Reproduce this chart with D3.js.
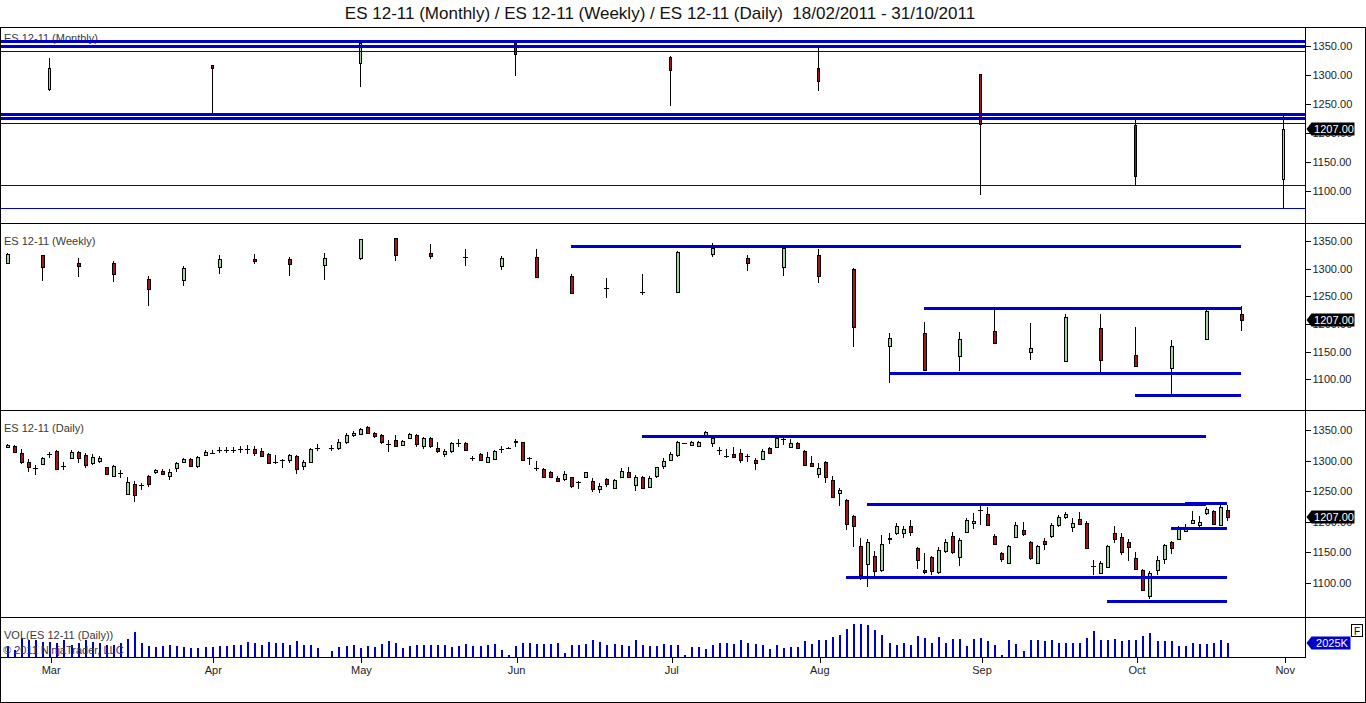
<!DOCTYPE html>
<html lang="en">
<head>
<meta charset="UTF-8">
<title>ES 12-11 Monthly / Weekly / Daily</title>
<script src="https://d3js.org/d3.v7.min.js"></script>
<style>
  body { margin: 0; background: #fff; }
  svg { display: block; font-family: "Liberation Sans", Arial, sans-serif; }
  .frame { stroke: #000; stroke-width: 1; fill: none; shape-rendering: crispEdges; }
  .wick { stroke: #000; stroke-width: 1; shape-rendering: crispEdges; }
  .body { stroke: #000; stroke-width: 1; shape-rendering: crispEdges; }
  .up { fill: #a3d3a3; }
  .down { fill: #a11616; }
  .level { stroke: #0000cd; fill: none; shape-rendering: crispEdges; }
  .vol { stroke: #0000cd; stroke-width: 2; shape-rendering: crispEdges; }
  .panel-label { font-size: 11px; fill: #3a3a3a; }
  .tick-label { font-size: 11px; fill: #222; }
  .tag-text { font-size: 11px; fill: #fff; }
  .title { font-size: 17px; fill: #111; white-space: pre; }
</style>
</head>
<body>
<svg width="1366" height="703"></svg>
<script>
// ---- data (ES 12-11, 18/02/2011 - 31/10/2011) ----
const titleText = "ES 12-11 (Monthly) / ES 12-11 (Weekly) / ES 12-11 (Daily)  18/02/2011 - 31/10/2011";
const lastPrice = 1207;
const lastVolume = 2025; // thousands

// monthly bars, [open, high, low, close]
const monthlyDates = ["2011-02-28", "2011-03-31", "2011-04-29", "2011-05-31", "2011-06-30",
  "2011-07-29", "2011-08-31", "2011-09-30", "2011-10-31"];
const monthlyOHLC = [
  [1275, 1329, 1273, 1312], [1317, 1318, 1233, 1311], [1320.5, 1356, 1279, 1355],
  [1355, 1357, 1298, 1336], [1331, 1332, 1246, 1308], [1312, 1348, 1273, 1289],
  [1301, 1302, 1092, 1215], [1213, 1222, 1110, 1125], [1120, 1232, 1070, 1207]
];

// weekly bars (week ending Friday 18/02 .. 21/10)
const weeklyOHLC = [
  [1311.4, 1328.9, 1308.3, 1327.7], [1324.6, 1324.6, 1278, 1303.5], [1310, 1319.2, 1285.4, 1305.4],
  [1310, 1314.4, 1276.3, 1290.2], [1281.2, 1287.2, 1232.8, 1263], [1280, 1305.3, 1269.1, 1302.3],
  [1302.3, 1324.6, 1290.2, 1317.4], [1318.6, 1326.4, 1308.3, 1315], [1317.4, 1321.6, 1287.2, 1308.3],
  [1307.1, 1328.3, 1280, 1320.4], [1319.2, 1354, 1316.2, 1353.6], [1355.4, 1355.8, 1314.4, 1325.2],
  [1328.3, 1345.8, 1318, 1323.4], [1320.8, 1335.5, 1305.3, 1320.2], [1305.3, 1323.4, 1298, 1320.4],
  [1322.2, 1335.5, 1285.4, 1285.6], [1287.2, 1290.2, 1255.8, 1257], [1264.8, 1283, 1246.7, 1264],
  [1258.8, 1290.2, 1252.8, 1258], [1258.8, 1331.5, 1257, 1331.3], [1327.7, 1347.6, 1321.6, 1338.5],
  [1319.2, 1324.6, 1296.3, 1309.5], [1302.3, 1339.7, 1287.2, 1337.3], [1324.6, 1335.5, 1274, 1287.2],
  [1299.3, 1301, 1158.6, 1193.6], [1160.4, 1183.3, 1092.7, 1174.3], [1183.3, 1203.9, 1115, 1116.9],
  [1142.3, 1185.7, 1115, 1172.5], [1186.4, 1226.8, 1165, 1165.2], [1149.5, 1201.5, 1135, 1156.2],
  [1133.2, 1217.8, 1131.4, 1213.5], [1191.8, 1217.8, 1112, 1133.2], [1143.5, 1193.6, 1124, 1124.2],
  [1119.9, 1170.7, 1071.6, 1159.2], [1172.5, 1225, 1172.3, 1222.6], [1217.8, 1232.9, 1186.4, 1207]
];

// daily bars, every weekday 18/02 .. 19/10 except Good Friday 22/04
const dailyOHLC = [
  [1323, 1327, 1320, 1326], [1324, 1325, 1313, 1314.5], [1312, 1318.5, 1294.6, 1297], [1298, 1302, 1282, 1289],
  [1288.5, 1293, 1276.6, 1288.8], [1294.5, 1306.5, 1293, 1303.8], [1309.7, 1314.7, 1303.8, 1311], [1316, 1317, 1285, 1286],
  [1290, 1298, 1285, 1291.5], [1304, 1317, 1302.7, 1313.6], [1313.6, 1316, 1295.6, 1304], [1309, 1312, 1287.5, 1293],
  [1295.6, 1311, 1293, 1305.4], [1299.5, 1307.6, 1295.6, 1303.8], [1289, 1290, 1276.6, 1278], [1275, 1293, 1274, 1292],
  [1280.4, 1284.8, 1271, 1280], [1246.7, 1274, 1244, 1265.8], [1262, 1267.4, 1233, 1244], [1258.7, 1264, 1252, 1260],
  [1275, 1276.6, 1257.6, 1262], [1280, 1286, 1277.7, 1284], [1283.7, 1286, 1276.6, 1278], [1275, 1286, 1268.5, 1281],
  [1287.5, 1298.4, 1282, 1295.6], [1297.3, 1305, 1295.6, 1302.7], [1302, 1303.8, 1290, 1291], [1291, 1307.6, 1288.6, 1306.5],
  [1310.3, 1317.4, 1307.6, 1314.7], [1312, 1317.4, 1311, 1312.4], [1317.4, 1322.8, 1313, 1317.8], [1317.4, 1321.7, 1313, 1317.8],
  [1317.6, 1322.8, 1312, 1317.2], [1318.5, 1324, 1313, 1318.9], [1318.5, 1325.5, 1311, 1318.2], [1318.5, 1324, 1308, 1312],
  [1316, 1320, 1306.5, 1308], [1311, 1312, 1294, 1296.7], [1298.5, 1309, 1294, 1298], [1300, 1302, 1287.5, 1300.4],
  [1300, 1311, 1295.6, 1309], [1308, 1309, 1279, 1287.5], [1290, 1301, 1285, 1297.3], [1298.4, 1320, 1296.7, 1319],
  [1319, 1327, 1316, 1320],
  [1320, 1325.5, 1316, 1320.4], [1320, 1336, 1317.4, 1330], [1330, 1344.6, 1328, 1342], [1342, 1349, 1338, 1345.6],
  [1344.6, 1354.3, 1342, 1352.7], [1355.4, 1357, 1344.6, 1345.6], [1345.6, 1347.3, 1336.4, 1340], [1342, 1343.5, 1328, 1331],
  [1327, 1333.7, 1314.7, 1327.4], [1333.7, 1342, 1321.7, 1324.5], [1325.5, 1333.7, 1324, 1332.6], [1336.4, 1346, 1334.8, 1343.5],
  [1342, 1343, 1321.7, 1328], [1324.5, 1339, 1318.5, 1337.5], [1336.4, 1338, 1320, 1322.8], [1320, 1330, 1312, 1314.7],
  [1312, 1319, 1305.4, 1316.3], [1316.3, 1331, 1313, 1329.3], [1329.3, 1334.8, 1322.8, 1329.7], [1329.3, 1331, 1316.3, 1317.4],
  [1303.8, 1308, 1300, 1304.2], [1310.3, 1313, 1299.5, 1301], [1298.4, 1313.6, 1297.3, 1306.5], [1302.7, 1317.4, 1301, 1316.3],
  [1318.5, 1324, 1313, 1318.9], [1320.6, 1321.7, 1318.5, 1319.5], [1331, 1334.8, 1321.7, 1333], [1330, 1331, 1300, 1301],
  [1303.8, 1306.5, 1293, 1304.2], [1287.8, 1299.5, 1283.7, 1287.2], [1286.4, 1287.5, 1272.3, 1274], [1282, 1283.7, 1272.8, 1274],
  [1271, 1275.6, 1264.7, 1265.8], [1270, 1283, 1267.4, 1279], [1272.8, 1274, 1256, 1257.6], [1264, 1267.4, 1253, 1264.4],
  [1272.3, 1282, 1271.2, 1281], [1267.4, 1271.2, 1249.5, 1253.8], [1253.8, 1263, 1246.7, 1258.7], [1269.6, 1271.2, 1256.5, 1261.4],
  [1256, 1270, 1255, 1268.5], [1274, 1287.5, 1271.2, 1283.7], [1281.5, 1289, 1271.2, 1274], [1260.3, 1276.6, 1251, 1274],
  [1274, 1275, 1255, 1256.5], [1257.6, 1275, 1256, 1272.3], [1274, 1290, 1271.2, 1289], [1291.3, 1303.8, 1286.4, 1300],
  [1301, 1313.6, 1299.5, 1311], [1309.2, 1332.6, 1306.5, 1331], [1328.5, 1329, 1327.5, 1328], [1325.5, 1332.6, 1324, 1331],
  [1324.5, 1332, 1322.8, 1331], [1341.8, 1349, 1340, 1346.7], [1328.3, 1339, 1322.8, 1336.4], [1316.3, 1321.7, 1309, 1317],
  [1307, 1318.5, 1303.8, 1306.5], [1310.9, 1321.7, 1305.4, 1306.5], [1313, 1318.5, 1296.7, 1301], [1308, 1310.3, 1298.4, 1308.4],
  [1301, 1303.8, 1284.8, 1295.6], [1302.7, 1318.5, 1301, 1316.3], [1321.2, 1322.8, 1312, 1313.6], [1322.8, 1339, 1321.7, 1337.5],
  [1335.9, 1338, 1325.5, 1335.3], [1322.8, 1334.8, 1321.2, 1329.3], [1328.3, 1331, 1318.5, 1320], [1315.8, 1317.4, 1291.3, 1293],
  [1296.7, 1307.6, 1290, 1291.8], [1278.3, 1295.6, 1271.2, 1287.5], [1298.4, 1300, 1264, 1274], [1268.5, 1275, 1240.2, 1241.3],
  [1246.7, 1256, 1225, 1252], [1234.8, 1237, 1187, 1195], [1208.7, 1211.4, 1158.7, 1192.4], [1160.9, 1173.4, 1104.3, 1113.6],
  [1131, 1171.7, 1093.5, 1166.8], [1143.5, 1152, 1110, 1119], [1121.7, 1178, 1118, 1164], [1172, 1181.5, 1163.6, 1174],
  [1181.5, 1197.8, 1178.8, 1192.4], [1182.6, 1192.4, 1173.4, 1188.6], [1192.4, 1203.3, 1176, 1182.6], [1157, 1158.7, 1122.8, 1138],
  [1121, 1148.9, 1115.2, 1118], [1142.4, 1143.5, 1113.6, 1119], [1119, 1158, 1115.2, 1154.3], [1151.6, 1171.7, 1149, 1166.8],
  [1176, 1183, 1147.8, 1150], [1143.5, 1173.4, 1127, 1170.7], [1184.2, 1206, 1182.6, 1203.3], [1196.7, 1214, 1188, 1200.5],
  [1219.4, 1226.6, 1195, 1219.8], [1212.5, 1223.9, 1194, 1195], [1176, 1180, 1162.5, 1163.6], [1148.9, 1150, 1133.7, 1139.7],
  [1133.7, 1162.5, 1132.6, 1160.9], [1176, 1199.5, 1175, 1195], [1187, 1199, 1177, 1180], [1166.8, 1169, 1137, 1140.8],
  [1132.6, 1161.4, 1130, 1159.8], [1168, 1173.4, 1154.3, 1162.5], [1176, 1197.8, 1173.4, 1194], [1195, 1211.4, 1191.3, 1207.6],
  [1208.7, 1215.8, 1204.9, 1213], [1191.3, 1206, 1182.6, 1197.8], [1204.9, 1215.8, 1195, 1196.7], [1197.8, 1201.6, 1156, 1157],
  [1127.7, 1137, 1112, 1127.2], [1116.3, 1136.4, 1114.7, 1132.6], [1127.2, 1162.5, 1124.5, 1160.9], [1181.5, 1192.4, 1165.2, 1171.7],
  [1174.5, 1181.5, 1145.1, 1150], [1166.8, 1171.7, 1135.3, 1158.7], [1140.8, 1150.5, 1121.7, 1123.4], [1121.7, 1122.8, 1086.4, 1089],
  [1079.4, 1120, 1072.8, 1116.3], [1121.7, 1143.5, 1112.5, 1138], [1138, 1163.6, 1131.5, 1161.4], [1166.8, 1169, 1147.8, 1157],
  [1172.3, 1192.4, 1170.7, 1188.6], [1184.2, 1196.7, 1182.6, 1189.7], [1199, 1217.9, 1197.8, 1203.3], [1195, 1208.7, 1187, 1199.5],
  [1214, 1223.4, 1211.4, 1221], [1216.8, 1218.5, 1194, 1195], [1195, 1227.7, 1193.5, 1223.9], [1218.5, 1227.7, 1201.6, 1207]
];

// daily volume, thousands of contracts (same days as dailyOHLC)
const dailyVolume = [
  1570, 1010, 2720, 2470, 2470, 2120, 2120, 1970, 2470, 1810, 1970, 2470, 2120, 1970, 1810, 1710, 1970, 2620, 3700, 1970,
  1610, 1460, 1610, 1710, 1610, 1460, 1360, 1360, 1460, 1460, 1610, 1610, 1710, 1810, 2220, 1970, 1810, 2120, 1970, 1970,
  1710, 2320, 1710, 1810, 1310,
  810, 1460, 1610, 1710, 1256, 1569, 1480, 1928, 2331, 2017, 1345, 1569, 1793, 1793, 1793, 1704, 1704, 1434, 1569, 1882,
  1569, 1569, 1704, 1882, 986, 224, 1569, 2106, 2017, 1928, 1928, 1928, 2017, 538, 1704, 1704, 1928, 2510, 2241, 1793,
  1928, 1793, 1569, 2465, 1704, 1569, 1569, 1882, 1793, 1793, 250, 1446, 1446, 1205, 1783, 2024, 2024, 1928, 2410, 2024,
  1832, 1687, 1205, 1783, 1253, 1446, 1446, 2265, 1928, 2410, 2506, 2892, 3278, 4097, 4820, 4820, 4724, 3952, 3278, 2073,
  1687, 2073, 1687, 3133, 2699, 2073, 2892, 2073, 2651, 2651, 1542, 2651, 2699, 2314, 1783, 241, 2506, 1928, 868, 2410,
  2506, 2314, 2410, 2073, 2073, 2073, 2073, 2796, 3856, 2506, 2410, 2651, 2314, 2410, 2506, 2988, 3519, 2314, 2314, 2314,
  1542, 1542, 2073, 1928, 1928, 2024, 2506, 2025
];

// horizontal levels drawn on the chart
const monthlyThickLevels = [1358.8, 1349.6, 1232.5, 1225.6];
const monthlyThinLevels = [1341.5, 1216.4, 1109, 1069.4];
const weeklyLevels = [
  { price: 1342, from: "2011-06-10", to: "2011-10-21" },
  { price: 1228.6, from: "2011-08-19", to: "2011-10-21" },
  { price: 1110.9, from: "2011-08-12", to: "2011-10-21" },
  { price: 1070.5, from: "2011-09-30", to: "2011-10-21" }
];
const dailyLevels = [
  { price: 1340.2, from: "2011-06-24", to: "2011-10-14" },
  { price: 1228.8, from: "2011-08-09", to: "2011-10-14" },
  { price: 1231, from: "2011-10-11", to: "2011-10-19" },
  { price: 1190.2, from: "2011-10-07", to: "2011-10-19" },
  { price: 1109.8, from: "2011-08-04", to: "2011-10-19" },
  { price: 1070.7, from: "2011-09-26", to: "2011-10-19" }
];
const priceTicks = [1100, 1150, 1200, 1250, 1300, 1350];

// ---- helpers ----
const parse = d3.timeParse("%Y-%m-%d");
const firstDay = new Date(2011, 1, 18);
const isWeekday = d => d.getDay() % 6 !== 0;
// bars sit on an even weekday grid (holiday sessions keep their slot)
function slot(date) {
  return d3.timeDay.range(firstDay, date).filter(isWeekday).length;
}

const dailyDates = d3.timeDay.range(firstDay, new Date(2011, 9, 20))
  .filter(d => isWeekday(d) && d3.timeFormat("%Y-%m-%d")(d) !== "2011-04-22");
const weeklyDates = d3.timeFriday.range(firstDay, new Date(2011, 9, 22));

const toBars = (dates, ohlc) => ohlc.map((v, i) => ({
  slot: slot(dates[i]), o: v[0], h: v[1], l: v[2], c: v[3]
}));
const monthlyBars = toBars(monthlyDates.map(parse), monthlyOHLC);
const weeklyBars = toBars(weeklyDates, weeklyOHLC);
const dailyBars = toBars(dailyDates, dailyOHLC);
const volBars = dailyVolume.map((v, i) => ({ slot: slot(dailyDates[i]), v }));

// ---- layout ----
const W = 1366, H = 703;
const plotRight = 1305.5;
const panels = {
  monthly: { top: 27, bottom: 223 },
  weekly: { top: 223, bottom: 410 },
  daily: { top: 410, bottom: 617 },
  volume: { top: 617, bottom: 657 }
};

const svg = d3.select("svg");
const x = d3.scaleLinear().domain([-1, 184.2]).range([0, 1306]);
const priceDomain = [1044, 1383];
const yScale = p => d3.scaleLinear().domain(priceDomain).range([p.bottom, p.top]);
const yM = yScale(panels.monthly), yW = yScale(panels.weekly), yD = yScale(panels.daily);
const yV = d3.scaleLinear().domain([0, 5830]).range([panels.volume.bottom, panels.volume.top]);

const px = v => Math.round(v) + 0.5;

// title
svg.append("text").attr("class", "title")
  .attr("x", 660).attr("y", 19)
  .attr("text-anchor", "middle")
  .text(titleText);

// clip paths per panel
Object.entries(panels).forEach(([k, p]) => {
  svg.append("clipPath").attr("id", "clip-" + k)
    .append("rect").attr("x", 1).attr("y", p.top + 1)
    .attr("width", plotRight - 1).attr("height", p.bottom - p.top - 1);
});

function panelGroup(key) {
  return svg.append("g").attr("clip-path", `url(#clip-${key})`);
}

function drawCandles(g, bars, y, bodyW) {
  const sel = g.append("g").selectAll("g").data(bars).join("g");
  sel.append("line").attr("class", "wick")
    .attr("x1", d => px(x(d.slot))).attr("x2", d => px(x(d.slot)))
    .attr("y1", d => y(d.h)).attr("y2", d => y(d.l));
  sel.each(function (d) {
    const cx = Math.round(x(d.slot));
    const y0 = y(Math.max(d.o, d.c)), y1 = y(Math.min(d.o, d.c));
    const node = d3.select(this);
    if (y1 - y0 < 1.2) {
      node.append("line").attr("class", "wick")
        .attr("x1", cx - bodyW / 2 - 0.5).attr("x2", cx + bodyW / 2 + 1.5)
        .attr("y1", px(y0)).attr("y2", px(y0));
    } else {
      node.append("rect")
        .attr("class", "body " + (d.c >= d.o ? "up" : "down"))
        .attr("x", cx - bodyW / 2 + 0.5).attr("width", bodyW)
        .attr("y", px(y0)).attr("height", Math.max(1, Math.round(y1 - y0)));
    }
  });
}

function drawLevels(g, levels, y, width) {
  g.append("g").selectAll("line").data(levels).join("line")
    .attr("class", "level")
    .attr("stroke-width", width)
    .attr("x1", d => d.from ? x(slot(parse(d.from))) : 0)
    .attr("x2", d => d.to ? x(slot(parse(d.to))) : plotRight)
    .attr("y1", d => Math.round(y(d.price)) + (width % 2 ? 0.5 : 0))
    .attr("y2", d => Math.round(y(d.price)) + (width % 2 ? 0.5 : 0));
}

function panelLabel(text, yPos) {
  svg.append("text").attr("class", "panel-label")
    .attr("x", 4).attr("y", yPos).text(text);
}

function priceAxis(y) {
  const g = svg.append("g").attr("transform", `translate(${plotRight},0)`);
  const ax = d3.axisRight(y).tickValues(priceTicks).tickSize(5).tickPadding(2)
    .tickFormat(d3.format(".2f"));
  g.call(ax);
  g.select(".domain").remove();
  g.selectAll(".tick line").attr("stroke", "#000").style("shape-rendering", "crispEdges");
  g.selectAll(".tick text").attr("class", "tick-label")
    .style("font-family", "inherit").style("font-size", "11px").attr("fill", "#222");
}

function valueTag(yc, label, fill, w) {
  const c = Math.round(yc);
  svg.append("path")
    .attr("d", `M${plotRight + 1},${c} L${plotRight + 6},${c - 6.5} L${plotRight + 6 + w},${c - 6.5} L${plotRight + 6 + w},${c + 6.5} L${plotRight + 6},${c + 6.5} Z`)
    .attr("fill", fill);
  svg.append("text").attr("class", "tag-text")
    .attr("x", plotRight + 7 + w / 2).attr("y", c + 4)
    .attr("text-anchor", "middle").text(label);
}

// ---- monthly panel ----
panelLabel("ES 12-11 (Monthly)", 42);
const gM = panelGroup("monthly");
drawCandles(gM, monthlyBars, yM, 2);
drawLevels(gM, monthlyThickLevels.map(p => ({ price: p })), yM, 3);
drawLevels(gM, monthlyThinLevels.map(p => ({ price: p })), yM, 1);
priceAxis(yM);
valueTag(yM(lastPrice), d3.format(".2f")(lastPrice), "#000", 43);

// ---- weekly panel ----
panelLabel("ES 12-11 (Weekly)", 245);
const gW = panelGroup("weekly");
drawCandles(gW, weeklyBars, yW, 3);
drawLevels(gW, weeklyLevels, yW, 3);
priceAxis(yW);
valueTag(yW(lastPrice), d3.format(".2f")(lastPrice), "#000", 43);

// ---- daily panel ----
panelLabel("ES 12-11 (Daily)", 432);
const gD = panelGroup("daily");
drawCandles(gD, dailyBars, yD, 3);
drawLevels(gD, dailyLevels, yD, 3);
priceAxis(yD);
valueTag(yD(lastPrice), d3.format(".2f")(lastPrice), "#000", 43);

// ---- volume panel ----
const gV = panelGroup("volume");
gV.append("g").selectAll("line").data(volBars).join("line")
  .attr("class", "vol")
  .attr("x1", d => Math.round(x(d.slot)) + 1).attr("x2", d => Math.round(x(d.slot)) + 1)
  .attr("y1", yV(0)).attr("y2", d => yV(d.v));
panelLabel("VOL(ES 12-11 (Daily))", 639);
svg.append("text").attr("class", "panel-label")
  .attr("x", 3).attr("y", 654).text("\u00a9 2011 NinjaTrader, LLC");
valueTag(yV(lastVolume), lastVolume + "K", "#0000cd", 39);

// "F" box on the volume axis
svg.append("rect").attr("x", 1351.5).attr("y", 624.5).attr("width", 11).attr("height", 12)
  .attr("fill", "#fff").attr("stroke", "#000").style("shape-rendering", "crispEdges");
svg.append("text").attr("x", 1357).attr("y", 634.5).attr("text-anchor", "middle")
  .style("font-size", "10px").style("fill", "#000").text("F");

// ---- time axis ----
const monthStarts = d3.timeMonth.range(new Date(2011, 2, 1), new Date(2011, 11, 1));
const xAxisG = svg.append("g").attr("transform", `translate(0,${panels.volume.bottom})`);
const monthTicks = monthStarts.map(d => ({ pos: slot(d) - 0.75, label: d3.timeFormat("%b")(d) }));
xAxisG.selectAll("line").data(monthTicks).join("line")
  .attr("x1", d => px(x(d.pos))).attr("x2", d => px(x(d.pos)))
  .attr("y1", 0).attr("y2", 6).attr("stroke", "#000").style("shape-rendering", "crispEdges");
xAxisG.selectAll("text").data(monthTicks).join("text")
  .attr("class", "tick-label")
  .attr("x", d => x(d.pos)).attr("y", 17)
  .attr("text-anchor", "middle").text(d => d.label);

// ---- frame ----
const frame = svg.append("g").attr("class", "frame");
frame.append("line").attr("x1", 0).attr("x2", W).attr("y1", 27.5).attr("y2", 27.5);
[223.5, 410.5, 617.5].forEach(yy =>
  frame.append("line").attr("x1", 0).attr("x2", W).attr("y1", yy).attr("y2", yy));
frame.append("line").attr("x1", 0).attr("x2", plotRight).attr("y1", 657.5).attr("y2", 657.5);
frame.append("line").attr("x1", plotRight).attr("x2", plotRight).attr("y1", 27).attr("y2", 658);
frame.append("line").attr("x1", 0.5).attr("x2", 0.5).attr("y1", 27).attr("y2", H);
frame.append("line").attr("x1", W - 0.5).attr("x2", W - 0.5).attr("y1", 27).attr("y2", H);
frame.append("line").attr("x1", 0).attr("x2", W).attr("y1", H - 0.5).attr("y2", H - 0.5);
</script>
</body>
</html>
